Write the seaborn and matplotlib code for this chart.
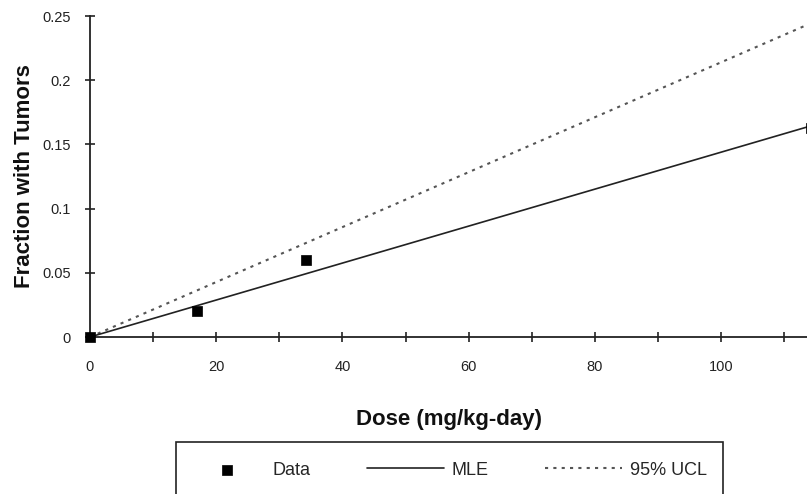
import matplotlib
matplotlib.use("Agg")
import matplotlib.pyplot as plt
import pandas as pd
import seaborn as sns
from matplotlib.patches import Rectangle
from matplotlib.ticker import MultipleLocator

# Observed dose-response data (last point sits right at the cropped edge)
dose = [0, 17, 34.2, 114.3]
fraction = [0.0, 0.02, 0.06, 0.163]

# Fitted curves (linear over the plotted range)
dose_fit = [0, 114.3]
mle = [0, 0.1645]
ucl = [0, 0.2445]

sns.set_style("ticks")
plt.rcParams["font.family"] = ["Liberation Sans", "DejaVu Sans"]

fig = plt.figure(figsize=(8.07, 4.94), dpi=100)
ax = fig.add_axes([90 / 807, 1 - 337 / 494, 1 - 90 / 807, (337 - 16) / 494])

fit = pd.DataFrame({"dose": dose_fit, "mle": mle, "ucl": ucl})
sns.lineplot(data=fit, x="dose", y="ucl", ax=ax, color="#555555", lw=1.5,
             linestyle=(0, (1.5, 2.5)), label="95% UCL")
sns.lineplot(data=fit, x="dose", y="mle", ax=ax, color="#222222", lw=1.2,
             label="MLE")
pts = pd.DataFrame({"dose": dose, "fraction": fraction})
sns.scatterplot(data=pts, x="dose", y="fraction", ax=ax, marker="s", s=62,
                color="black", edgecolor="black", linewidth=0.5, label="Data",
                zorder=5, clip_on=False)

ax.set_xlim(0, (807 - 90) / 6.31)
ax.set_ylim(0, 0.25)
ax.xaxis.set_major_locator(MultipleLocator(20))
ax.xaxis.set_minor_locator(MultipleLocator(10))
ax.set_yticks([0, 0.05, 0.1, 0.15, 0.2, 0.25])
ax.set_yticklabels(["0", "0.05", "0.1", "0.15", "0.2", "0.25"])
ax.tick_params(axis="both", which="both", direction="inout", width=1.2,
               length=7.5, colors="#222222", labelsize=10.5)
ax.tick_params(axis="x", which="major", pad=13)
ax.tick_params(axis="y", which="major", pad=10)
sns.despine(ax=ax)
for side in ["left", "bottom"]:
    ax.spines[side].set_linewidth(1.3)
    ax.spines[side].set_color("#222222")

ax.set_xlabel("Dose (mg/kg-day)", fontsize=16, fontweight="bold", labelpad=25,
              color="#111111")
ax.set_ylabel("Fraction with Tumors", fontsize=16, fontweight="bold", labelpad=5,
              color="#111111")

ax.get_legend().remove()
handles, labels = ax.get_legend_handles_labels()
order = [labels.index("Data"), labels.index("MLE"), labels.index("95% UCL")]
fig.legend([handles[i] for i in order], [labels[i] for i in order],
           loc="center left", bbox_to_anchor=(188 / 807, 1 - 470 / 494),
           ncol=3, frameon=False, fontsize=13, borderpad=0, borderaxespad=0,
           handlelength=4.3, handletextpad=0.4, columnspacing=3.1,
           markerscale=0.9)
# legend box, cut off by the bottom edge like the source
fig.add_artist(Rectangle((176 / 807, -0.1), 547 / 807, (494 - 442) / 494 + 0.1,
                         transform=fig.transFigure, fill=False,
                         edgecolor="#222222", linewidth=1.2))

fig.savefig("out.png", dpi=100)
